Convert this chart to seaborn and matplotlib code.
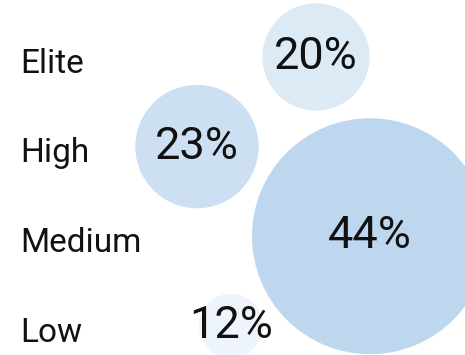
import pandas as pd
import matplotlib.pyplot as plt
import seaborn as sns

sns.set_theme(style="white")
plt.rcParams['font.family'] = ['Roboto', 'DejaVu Sans']

# Chart data
categories = ['Elite', 'High', 'Medium', 'Low']
shares = [20, 23, 44, 12]
x_pos = [316, 197, 370, 231]
colors = ['#dceaf6', '#cddff2', '#bdd7ee', '#eef4fb']

df = pd.DataFrame({'Category': categories, 'Share': shares, 'X': x_pos})
df['Row'] = range(len(df))
df['Y'] = df['Row'] - 0.045

# bubble radius grows with the share (about 2.68 px per point of share)
px_per_share = 118 / 44
df['S'] = (2 * df['Share'] * px_per_share * 0.72) ** 2

fig = plt.figure(figsize=(4.65, 3.55), dpi=100)
ax = fig.add_axes([0, 0, 1, 1])

sns.scatterplot(data=df, x='X', y='Y', hue='Category',
                palette=dict(zip(categories, colors)), s=df['S'],
                linewidth=0, legend=False, ax=ax, zorder=1)

for _, row in df.iterrows():
    ax.text(row['X'], row['Y'], f"{row['Share']}%", fontsize=32.5,
            ha='center', va='center', color='#111111', zorder=3)
    ax.text(20, row['Row'] + 0.03, row['Category'], fontsize=24,
            ha='left', va='center', color='#111111', zorder=3)

ax.set_xlim(0, 465)
ax.set_ylim(3.28, -0.68)
ax.set_axis_off()

fig.savefig('out.png', dpi=100)
